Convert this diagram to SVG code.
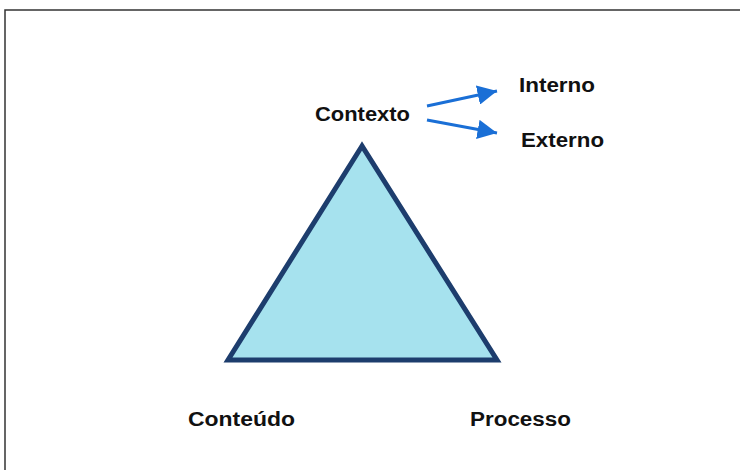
<svg xmlns="http://www.w3.org/2000/svg" width="740" height="470" viewBox="0 0 740 470">
<defs>
<style>
.lbl{font-family:"Liberation Sans",Arial,sans-serif;font-weight:bold;font-size:20px;fill:#111}
.arr{stroke:#1a6fd6;stroke-width:3;fill:none;marker-end:url(#ah)}
</style>
<marker id="ah" viewBox="0 0 10 10" refX="10" refY="5" markerWidth="6.5" markerHeight="6.5" markerUnits="strokeWidth" orient="auto">
<path d="M0,0 L10,5 L0,10 z" fill="#1a6fd6"/>
</marker>
</defs>
<rect width="740" height="470" fill="#fff"/>
<path d="M5,470 L5,10 L740,10" fill="none" stroke="#333" stroke-width="1.5"/>
<g id="triangle">
<polygon points="362,146 228,360 497,360" fill="#a6e2ee" stroke="#1d3d6d" stroke-width="5" stroke-linejoin="miter"/>
</g>
<g id="contexto"><text class="lbl" x="315" y="121" textLength="95" lengthAdjust="spacingAndGlyphs">Contexto</text></g>
<g id="interno"><text class="lbl" x="519" y="92" textLength="76" lengthAdjust="spacingAndGlyphs">Interno</text></g>
<g id="externo"><text class="lbl" x="521" y="147" textLength="83" lengthAdjust="spacingAndGlyphs">Externo</text></g>
<g id="conteudo"><text class="lbl" x="188" y="426" textLength="107" lengthAdjust="spacingAndGlyphs">Conteúdo</text></g>
<g id="processo"><text class="lbl" x="470" y="426" textLength="101" lengthAdjust="spacingAndGlyphs">Processo</text></g>
<g id="connectors">
<line class="arr" x1="427" y1="106" x2="497" y2="91"/>
<line class="arr" x1="427" y1="120" x2="497" y2="133"/>
</g>
</svg>
